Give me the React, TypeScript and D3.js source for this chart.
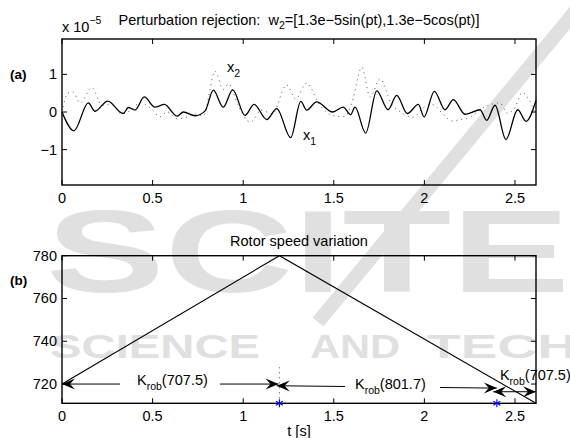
import React, { useEffect, useRef } from 'react';
import * as d3 from 'd3';

// shared time axis [s]
const timeTicks = [0, 0.5, 1, 1.5, 2, 2.5];
const tMax = 2.616;

// (a) perturbation response, values in units of 1e-5
const x1Time = [0, 0.066, 0.145, 0.182, 0.252, 0.338, 0.366, 0.403, 0.454, 0.513, 0.565, 0.636, 0.67, 0.734, 0.79, 0.835, 0.89, 0.942, 1.01, 1.06, 1.13, 1.185, 1.262, 1.318, 1.35, 1.405, 1.494, 1.552, 1.593, 1.617, 1.676, 1.737, 1.8, 1.847, 1.906, 1.967, 1.998, 2.055, 2.114, 2.16, 2.224, 2.25, 2.307, 2.344, 2.39, 2.45, 2.515, 2.561, 2.616];
const x1Vals = [0, -0.5, 0.24, 0.02, 0.29, -0.04, 0.12, 0.05, 0.4, 0.13, 0.2, -0.11, 0.0, -0.1, 0.03, 0.58, 0.13, 0.59, -0.09, 0.2, -0.2, 0.09, -0.68, 0.28, 0.05, 0.27, 0.0, 0.13, -0.07, 0.13, -0.56, 0.56, 0.06, 0.44, -0.04, 0.2, -0.13, 0.55, 0.06, 0.33, -0.06, -0.03, 0.06, -0.22, 0.18, -0.73, 0.06, -0.25, 0.31];
const x2Time = [0, 0.03, 0.06, 0.1, 0.165, 0.22, 0.27, 0.33, 0.38, 0.43, 0.5, 0.54, 0.58, 0.635, 0.68, 0.73, 0.78, 0.845, 0.89, 0.92, 0.97, 1.04, 1.1, 1.16, 1.24, 1.29, 1.35, 1.42, 1.5, 1.56, 1.6, 1.655, 1.7, 1.755, 1.82, 1.87, 1.94, 1.99, 2.04, 2.11, 2.15, 2.2, 2.25, 2.3, 2.417, 2.46, 2.5, 2.54, 2.58, 2.616];
const x2Vals = [0, 0.49, 0.53, 0.24, 0.65, 0.18, 0.2, -0.05, 0.05, 0.25, 0.05, -0.13, 0.0, -0.18, -0.15, -0.05, -0.1, 1.08, 0.6, 0.75, 0.2, -0.27, 0.05, -0.05, 0.72, 0.35, 0.77, 0.2, -0.1, -0.12, 0.25, 1.19, 0.4, 0.88, 0.2, 0.0, -0.14, 0.1, 0.2, -0.09, -0.24, -0.2, -0.15, 0.04, 0.24, -0.04, 0.12, 0.52, 0.3, -0.1];
const upperTicks = [-1, 0, 1];

// (b) rotor speed variation
const speedTime = [0, 1.2, 2.616];
const speedVals = [720, 780, 711];
const speedTicks = [720, 740, 760, 780];
const switchTimes = [1.2, 2.4];
const gainValues = ['707.5', '801.7', '707.5'];
const arrowFrom = [0, 1.185, 2.38];
const arrowTo = [1.195, 2.4, 2.616];
const arrowSpeedFrom = [720, 719.2, 716.4];
const arrowSpeedTo = [720, 718.1, 716.4];
const gapFrom = [0.32, 1.562, null];
const gapTo = [0.872, 2.086, null];
const labelTime = [0.414, 1.617, 2.417];
const labelSpeed = [719.5, 717.9, 722.1];

const FONT = '"Liberation Sans", Arial, Helvetica, sans-serif';

const App = () => {
  const svgRef = useRef(null);

  useEffect(() => {
    const svg = d3.select(svgRef.current);
    svg.selectAll('*').remove();

    const left = 62;
    const right = 536;

    // publisher watermark behind everything
    const wm = svg.append('g').attr('fill', '#e0e0e0').attr('font-family', FONT).attr('font-weight', 'bold');
    wm.append('text').attr('x', 46).attr('y', 292).attr('font-size', 116)
      .attr('textLength', 524).attr('lengthAdjust', 'spacingAndGlyphs').text('SCITE');
    wm.append('line').attr('x1', 318).attr('y1', 322).attr('x2', 578).attr('y2', 8)
      .attr('stroke', '#e0e0e0').attr('stroke-width', 14);
    [['SCIENCE', 50, 210], ['AND', 310, 90], ['TECH', 427, 150]].forEach(([w, x, l]) => {
      wm.append('text').attr('x', x).attr('y', 358).attr('font-size', 34)
        .attr('textLength', l).attr('lengthAdjust', 'spacingAndGlyphs').text(w);
    });

    const x = d3.scaleLinear().domain([0, tMax]).range([left, right]);

    const drawFrame = (y, top, bottom, yTicks, fmt) => {
      const g = svg.append('g').attr('font-family', FONT).attr('font-size', 14.5);
      // inward ticks on all four sides
      timeTicks.forEach((t) => {
        g.append('line').attr('x1', x(t)).attr('x2', x(t)).attr('y1', bottom).attr('y2', bottom - 5).attr('stroke', '#000');
        g.append('line').attr('x1', x(t)).attr('x2', x(t)).attr('y1', top).attr('y2', top + 5).attr('stroke', '#000');
        g.append('text').attr('x', x(t)).attr('y', bottom + 18).attr('text-anchor', 'middle').text(String(t));
      });
      yTicks.forEach((v) => {
        g.append('line').attr('x1', left).attr('x2', left + 5).attr('y1', y(v)).attr('y2', y(v)).attr('stroke', '#000');
        g.append('line').attr('x1', right).attr('x2', right - 5).attr('y1', y(v)).attr('y2', y(v)).attr('stroke', '#000');
        g.append('text').attr('x', left - 5).attr('y', y(v) + 5).attr('text-anchor', 'end').text(fmt(v));
      });
      g.append('rect').attr('x', left).attr('y', top).attr('width', right - left).attr('height', bottom - top)
        .attr('fill', 'none').attr('stroke', '#000').attr('stroke-width', 1.4);
    };

    // ---------- (a)
    const yA = d3.scaleLinear().domain([-1.94, 1.94]).range([185, 39]);
    drawFrame(yA, 39, 185, upperTicks, (v) => (v < 0 ? '\u2212' + Math.abs(v) : String(v)));

    const lineA = d3.line().x((d) => x(d[0])).y((d) => yA(d[1])).curve(d3.curveMonotoneX);
    svg.append('path').datum(x2Time.map((t, i) => [t, x2Vals[i]]))
      .attr('d', lineA).attr('fill', 'none').attr('stroke', '#555').attr('stroke-width', 1)
      .attr('stroke-dasharray', '1 4');
    svg.append('path').datum(x1Time.map((t, i) => [t, x1Vals[i]]))
      .attr('d', lineA).attr('fill', 'none').attr('stroke', '#000').attr('stroke-width', 1.3);

    const ta = svg.append('g').attr('font-family', FONT).attr('font-size', 14.5).attr('fill', '#000');
    const title = ta.append('text').attr('x', (left + right) / 2).attr('y', 25).attr('text-anchor', 'middle')
      .style('white-space', 'pre');
    title.append('tspan').text('Perturbation rejection:\u00a0\u00a0w');
    title.append('tspan').attr('dy', 4).attr('font-size', 10.5).text('2');
    title.append('tspan').attr('dy', -4).text('=[1.3e\u22125sin(pt),1.3e\u22125cos(pt)]');
    const exp = ta.append('text').attr('x', left).attr('y', 32);
    exp.append('tspan').text('x 10');
    exp.append('tspan').attr('dy', -8).attr('font-size', 10.5).text('\u22125');
    ta.append('text').attr('x', 10).attr('y', 79).attr('font-weight', 'bold').attr('font-size', 13.5).text('(a)');
    const l2 = ta.append('text').attr('x', 227).attr('y', 72);
    l2.append('tspan').text('x');
    l2.append('tspan').attr('dy', 5).attr('font-size', 10.5).text('2');
    const l1 = ta.append('text').attr('x', 303).attr('y', 140);
    l1.append('tspan').text('x');
    l1.append('tspan').attr('dy', 5).attr('font-size', 10.5).text('1');

    // ---------- (b)
    const yB = d3.scaleLinear().domain([711, 780]).range([403.3, 255.7]);
    drawFrame(yB, 255.7, 403.3, speedTicks, (v) => String(v));

    const lineB = d3.line().x((d) => x(d[0])).y((d) => yB(d[1]));
    svg.append('path').datum(speedTime.map((t, i) => [t, speedVals[i]]))
      .attr('d', lineB).attr('fill', 'none').attr('stroke', '#000').attr('stroke-width', 1.1);

    svg.append('line').attr('x1', x(switchTimes[0])).attr('x2', x(switchTimes[0]))
      .attr('y1', yB(711)).attr('y2', yB(728)).attr('stroke', '#444').attr('stroke-dasharray', '1 4');

    const tb = svg.append('g').attr('font-family', FONT).attr('font-size', 14.5).attr('fill', '#000');
    tb.append('text').attr('x', (left + right) / 2).attr('y', 246).attr('text-anchor', 'middle').text('Rotor speed variation');
    tb.append('text').attr('x', 10).attr('y', 285).attr('font-weight', 'bold').attr('font-size', 13.5).text('(b)');
    tb.append('text').attr('x', (left + right) / 2).attr('y', 436).attr('text-anchor', 'middle').text('t [s]');

    const head = (tipX, tipY, ux, uy) => {
      const L = 13, W = 5.5, N = 8;
      const px = -uy, py = ux;
      const pts = [
        [tipX, tipY],
        [tipX - ux * L + px * W, tipY - uy * L + py * W],
        [tipX - ux * N, tipY - uy * N],
        [tipX - ux * L - px * W, tipY - uy * L - py * W],
      ];
      svg.append('polygon').attr('points', pts.map((p) => p.join(',')).join(' ')).attr('fill', '#000');
    };

    arrowFrom.forEach((t0, i) => {
      const ax0 = x(t0), ay0 = yB(arrowSpeedFrom[i]);
      const ax1 = x(arrowTo[i]), ay1 = yB(arrowSpeedTo[i]);
      const len = Math.hypot(ax1 - ax0, ay1 - ay0);
      const ux = (ax1 - ax0) / len, uy = (ay1 - ay0) / len;
      const yAt = (px) => ay0 + ((px - ax0) / (ax1 - ax0)) * (ay1 - ay0);
      const segs = gapFrom[i] == null
        ? [[ax0, ax1]]
        : [[ax0, x(gapFrom[i])], [x(gapTo[i]), ax1]];
      segs.forEach(([s, e]) => {
        svg.append('line').attr('x1', s).attr('y1', yAt(s)).attr('x2', e).attr('y2', yAt(e))
          .attr('stroke', '#000').attr('stroke-width', 1);
      });
      head(ax1, ay1, ux, uy);
      head(ax0, ay0, -ux, -uy);

      const lab = tb.append('text').attr('x', x(labelTime[i])).attr('y', yB(labelSpeed[i]));
      lab.append('tspan').text('K');
      lab.append('tspan').attr('dy', 5).attr('font-size', 10.5).text('rob');
      lab.append('tspan').attr('dy', -5).text('(' + gainValues[i] + ')');
    });

    // blue asterisk markers at the switching instants
    const r = 4;
    const starArms = [[0, -r, 0, r], [-r * 0.87, -r * 0.5, r * 0.87, r * 0.5], [-r * 0.87, r * 0.5, r * 0.87, -r * 0.5]];
    switchTimes.forEach((t) => {
      const cx = x(t), cy = yB(711);
      starArms.forEach(([a, b, c, d]) => {
        svg.append('line').attr('x1', cx + a).attr('y1', cy + b).attr('x2', cx + c).attr('y2', cy + d)
          .attr('stroke', '#0000ff').attr('stroke-width', 1.1);
      });
    });
  }, []);

  return (
    <svg ref={svgRef} width={570} height={438}
      style={{ position: 'absolute', left: 0, top: 0, background: '#fff' }}></svg>
  );
};

export default App;
